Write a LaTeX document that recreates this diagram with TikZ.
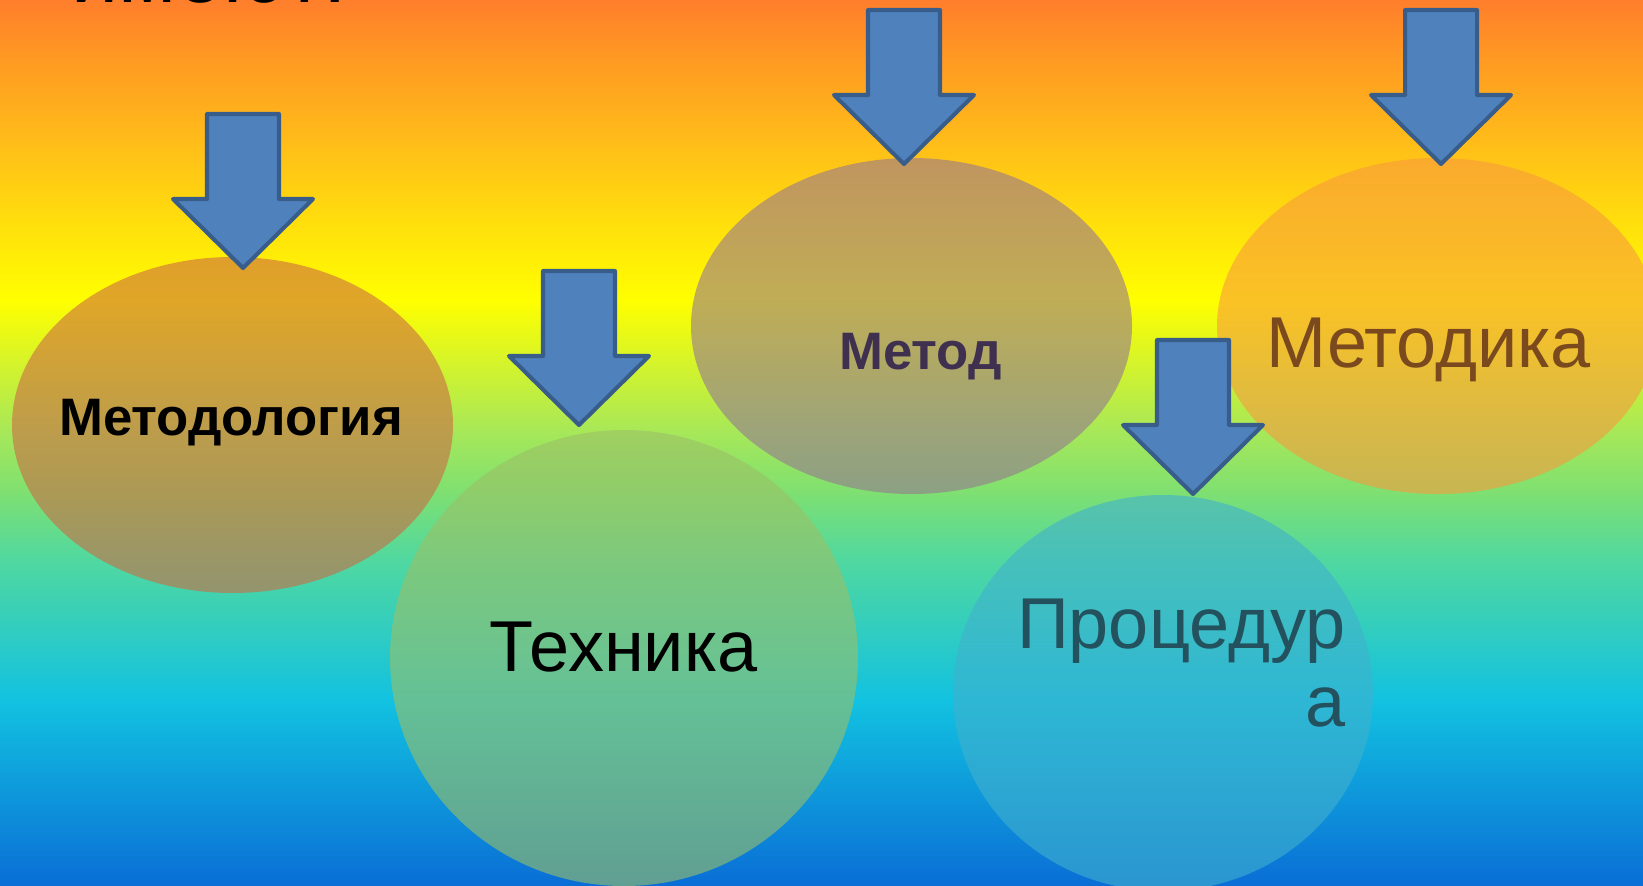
\documentclass[tikz,border=0pt]{standalone}
\usepackage{fontspec}
\setmainfont{Liberation Sans}
\usepackage{xcolor}
\usepackage{tikz}
\usetikzlibrary{calc, shapes.geometric}

\definecolor{bgtop}{RGB}{255,126,44}
\definecolor{bgorange}{RGB}{255,154,34}
\definecolor{bggold}{RGB}{255,192,24}
\definecolor{bgyellow}{RGB}{255,255,0}
\definecolor{bglightgreen}{RGB}{168,232,88}
\definecolor{bglime}{RGB}{128,224,112}
\definecolor{bgteal}{RGB}{80,216,160}
\definecolor{bgcyan}{RGB}{18,194,224}
\definecolor{bgbottom}{RGB}{10,110,214}

\definecolor{metlogfill}{RGB}{203,107,67}
\definecolor{metodfill}{RGB}{150,119,144}
\definecolor{metodikafill}{RGB}{248,154,61}
\definecolor{tehnikafill}{RGB}{155,192,102}
\definecolor{procfill}{RGB}{65,177,205}

\definecolor{metodtext}{RGB}{63,48,80}
\definecolor{metodikatext}{RGB}{122,74,30}
\definecolor{proctext}{RGB}{35,82,94}

\definecolor{arrowfill}{RGB}{79,129,189}
\definecolor{arrowdraw}{RGB}{56,93,138}

\pgfdeclareverticalshading{rainbowbg}{100bp}{color(0bp)=(bgbottom); color(25bp)=(bgbottom); color(35.45bp)=(bgcyan); color(43.36bp)=(bgteal); color(47.32bp)=(bglime); color(50.71bp)=(bglightgreen); color(58.05bp)=(bgyellow); color(66.53bp)=(bggold); color(71.61bp)=(bgorange); color(75bp)=(bgtop); color(100bp)=(bgtop)}

\tikzset{
	blob/.style={ellipse, fill opacity=0.6, inner sep=0},
	arrowblock/.style={fill=arrowfill, draw=arrowdraw, line width=1.15pt},
	lbl/.style={anchor=base, inner sep=0},
	lblbold/.style={lbl, font=\fontsize{15}{18}\selectfont\bfseries},
	lblbig/.style={lbl, font=\fontsize{20.5}{25}\selectfont},
	headline/.style={anchor=base west, inner sep=0, font=\fontsize{24}{28}\selectfont}
}

\newcommand{\DownArrow}[1]{
	\def\lpin{#1}
	\filldraw[arrowblock] (\lpin) -- ++(0.70,0.69) -- ++(-0.34,0) -- ++(0,0.85) -- ++(-0.72,0) -- ++(0,-0.85) -- ++(-0.34,0) -- cycle;
}

\begin{document}
\begin{tikzpicture}[line cap=round, line join=round]

	\useasboundingbox (0,0) rectangle (16.43,8.85);
	\clip (0,0) rectangle (16.43,8.85);
	\shade[shading=rainbowbg] (0,0) rectangle (16.43,8.85);

	\node[headline] (heading) at (0.71,8.825) {имеют:};

	\node[blob, fill=metlogfill, minimum width=4.41cm, minimum height=3.36cm] (metlog) at (2.325,4.60) {};
	\node[blob, fill=tehnikafill, minimum width=4.68cm, minimum height=4.56cm] (tehnika) at (6.24,2.27) {};
	\node[blob, fill=metodfill, minimum width=4.41cm, minimum height=3.36cm] (metod) at (9.115,5.59) {};
	\node[blob, fill=metodikafill, minimum width=4.41cm, minimum height=3.36cm] (metodika) at (14.375,5.59) {};
	\node[blob, fill=procfill, minimum width=4.20cm, minimum height=3.96cm] (proc) at (11.63,1.92) {};

	\coordinate (T1) at (2.43,6.17);
	\coordinate (T2) at (5.79,4.60);
	\coordinate (T3) at (9.04,7.21);
	\coordinate (T4) at (14.41,7.21);
	\coordinate (T5) at (11.93,3.91);

	\DownArrow{T1}
	\DownArrow{T2}
	\DownArrow{T3}
	\DownArrow{T4}
	\DownArrow{T5}

	\node[lblbold] (metlogtxt) at (2.31,4.50) {Методология};
	\node[lblbold, text=metodtext] (metodtxt) at (9.205,5.16) {Метод};
	\node[lblbig, text=metodikatext] (metodikatxt) at (14.285,5.18) {Методика};
	\node[lblbig] (tehnikatxt) at (6.235,2.14) {Техника};
	\node[lblbig, text=proctext, anchor=base east] (proctxt) at (13.46,2.37) {Процедур};
	\node[lblbig, text=proctext, anchor=base east] (proctxtend) at (13.46,1.59) {а};

\end{tikzpicture}
\end{document}
